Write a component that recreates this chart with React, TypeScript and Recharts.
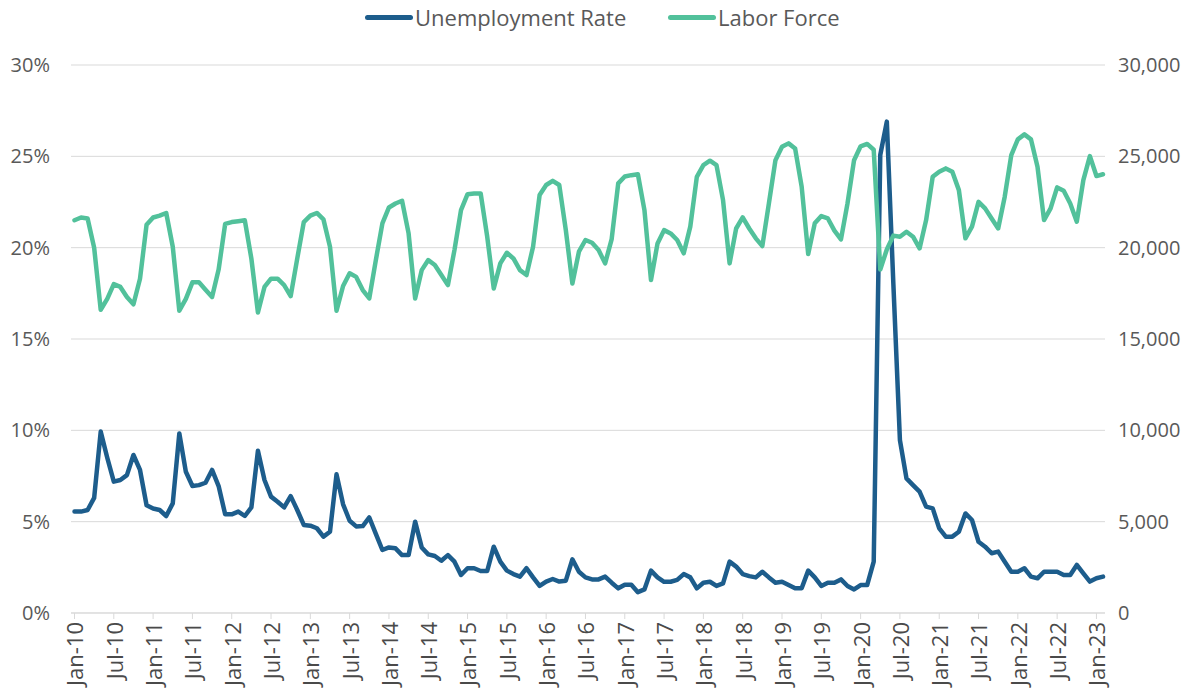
import { LineChart, Line, XAxis, YAxis, CartesianGrid } from "recharts";

const MONTHS = ["Jan", "Feb", "Mar", "Apr", "May", "Jun", "Jul", "Aug", "Sep", "Oct", "Nov", "Dec"];
const FIRST_YEAR = 2010;

// monthly unemployment rate (%), Jan-10 .. Feb-23
const unemploymentRate = [
  5.55, 5.55, 5.64, 6.3, 9.93, 8.5, 7.19, 7.28, 7.55, 8.65, 7.83, 5.9,
  5.72, 5.64, 5.31, 6.0, 9.83, 7.73, 6.95, 7.0, 7.13, 7.83, 6.95, 5.4,
  5.4, 5.55, 5.31, 5.78, 8.88, 7.28, 6.37, 6.09, 5.78, 6.4, 5.64, 4.82,
  4.78, 4.64, 4.18, 4.45, 7.59, 5.95, 5.05, 4.74, 4.76, 5.23, 4.33, 3.45,
  3.59, 3.54, 3.17, 3.17, 5.0, 3.59, 3.21, 3.12, 2.86, 3.17, 2.81, 2.08,
  2.45, 2.45, 2.3, 2.3, 3.63, 2.81, 2.32, 2.13, 1.99, 2.45, 1.95, 1.48,
  1.72, 1.86, 1.72, 1.77, 2.94, 2.26, 1.95, 1.84, 1.84, 1.99, 1.66, 1.35,
  1.55, 1.55, 1.14, 1.29, 2.32, 1.95, 1.71, 1.71, 1.81, 2.13, 1.95, 1.35,
  1.66, 1.71, 1.48, 1.62, 2.81, 2.54, 2.13, 2.02, 1.95, 2.26, 1.95, 1.66,
  1.71, 1.53, 1.35, 1.35, 2.32, 1.95, 1.48, 1.66, 1.66, 1.84, 1.48, 1.29,
  1.53, 1.53, 2.81, 25.07, 26.9, 18.0, 9.47, 7.37, 7.0, 6.64, 5.82, 5.73,
  4.63, 4.18, 4.18, 4.45, 5.45, 5.09, 3.9, 3.63, 3.27, 3.36, 2.81, 2.26,
  2.26, 2.45, 1.99, 1.9, 2.26, 2.26, 2.26, 2.08, 2.08, 2.63, 2.17, 1.72,
  1.9, 1.99,
];

// monthly labor force (persons), Jan-10 .. Feb-23
const laborForce = [
  21500, 21650, 21600, 20000, 16600, 17200, 18000, 17850, 17300, 16900, 18300, 21250,
  21650, 21750, 21900, 20050, 16550, 17200, 18100, 18100, 17700, 17300, 18800, 21300,
  21400, 21450, 21500, 19400, 16450, 17850, 18300, 18300, 17950, 17350, 19400, 21400,
  21750, 21900, 21550, 20050, 16550, 17900, 18600, 18400, 17680, 17220, 19320, 21330,
  22200, 22420, 22570, 20780, 17220, 18770, 19320, 19050, 18500, 17950, 19870, 22060,
  22930, 22970, 22970, 20600, 17770, 19140, 19720, 19410, 18770, 18500, 20050, 22880,
  23430, 23660, 23430, 20960, 18040, 19780, 20420, 20270, 19870, 19140, 20470, 23520,
  23900, 23970, 24020, 22060, 18230, 20230, 20960, 20780, 20420, 19690, 21150, 23880,
  24520, 24760, 24520, 22600, 19140, 21050, 21660, 21050, 20510, 20090, 22420, 24790,
  25520, 25710, 25430, 23340, 19650, 21330, 21730, 21600, 20930, 20450, 22420, 24790,
  25550, 25680, 25360, 18800, 19900, 20660, 20600, 20870, 20600, 19960, 21510, 23880,
  24160, 24340, 24160, 23150, 20510, 21150, 22510, 22150, 21600, 21050, 22790, 25070,
  25930, 26200, 25930, 24430, 21510, 22150, 23300, 23120, 22420, 21420, 23700, 25010,
  23920, 24020,
];

const leftTicks = [0, 5, 10, 15, 20, 25, 30];
const rightTicks = [0, 5000, 10000, 15000, 20000, 25000, 30000];

const BLUE = "#1d5d8c";
const GREEN = "#52c19b";
const TEXT = "#595959";
const GRID = "#d9d9d9";
const FONT = "'Open Sans', sans-serif";

const data = unemploymentRate.map((rate, i) => ({
  month: `${MONTHS[i % 12]}-${String((FIRST_YEAR + Math.floor(i / 12)) % 100).padStart(2, "0")}`,
  rate,
  labor: laborForce[i],
}));

function XTick({ x, y, payload }: any) {
  return (
    <g transform={`translate(${x + 1},${y + 1}) rotate(-90)`}>
      <text x={0} y={0} dy="0.36em" textAnchor="end" fill="#4a4a4a" fontSize={22} fontFamily={FONT}>
        {payload.value}
      </text>
    </g>
  );
}

function LegendItem({ color, label, left }: { color: string; label: string; left: number }) {
  return (
    <div style={{ position: "absolute", left, top: 2, display: "flex", alignItems: "center", height: 30 }}>
      <span style={{ display: "inline-block", width: 48, height: 5, borderRadius: 3, background: color, marginRight: 2 }} />
      <span style={{ fontFamily: FONT, fontSize: 22, color: TEXT, whiteSpace: "nowrap" }}>{label}</span>
    </div>
  );
}

export default function App() {
  return (
    <div style={{ position: "absolute", left: 0, top: 0, width: 1203, height: 693, background: "#fff" }}>
      <LegendItem color={BLUE} label="Unemployment Rate" left={365} />
      <LegendItem color={GREEN} label="Labor Force" left={668} />
      <LineChart width={1203} height={693} data={data} margin={{ top: 65, right: 0, bottom: 0, left: 0 }}>
        <CartesianGrid yAxisId="left" vertical={false} stroke={GRID} strokeWidth={1} />
        <XAxis
          dataKey="month"
          interval={5}
          height={80}
          padding={{ left: 3.5, right: 2 }}
          axisLine={{ stroke: GRID }}
          tickLine={{ stroke: GRID }}
          tickSize={6}
          tickMargin={2}
          tick={<XTick />}
        />
        <YAxis
          yAxisId="left"
          domain={[0, 30]}
          ticks={leftTicks}
          width={71}
          axisLine={false}
          tickLine={false}
          tickSize={0}
          tickMargin={21}
          tickFormatter={(v: number) => `${v}%`}
          tick={{ fill: TEXT, fontSize: 20, fontFamily: FONT }}
        />
        <YAxis
          yAxisId="right"
          orientation="right"
          domain={[0, 30000]}
          ticks={rightTicks}
          width={98}
          axisLine={false}
          tickLine={false}
          tickSize={0}
          tickMargin={13}
          tickFormatter={(v: number) => v.toLocaleString("en-US")}
          tick={{ fill: TEXT, fontSize: 20, fontFamily: FONT }}
        />
        <Line
          yAxisId="left"
          type="linear"
          dataKey="rate"
          stroke={BLUE}
          strokeWidth={4.5}
          strokeLinejoin="round"
          strokeLinecap="round"
          dot={false}
          activeDot={false}
          isAnimationActive={false}
        />
        <Line
          yAxisId="right"
          type="linear"
          dataKey="labor"
          stroke={GREEN}
          strokeWidth={4.5}
          strokeLinejoin="round"
          strokeLinecap="round"
          dot={false}
          activeDot={false}
          isAnimationActive={false}
        />
      </LineChart>
    </div>
  );
}
